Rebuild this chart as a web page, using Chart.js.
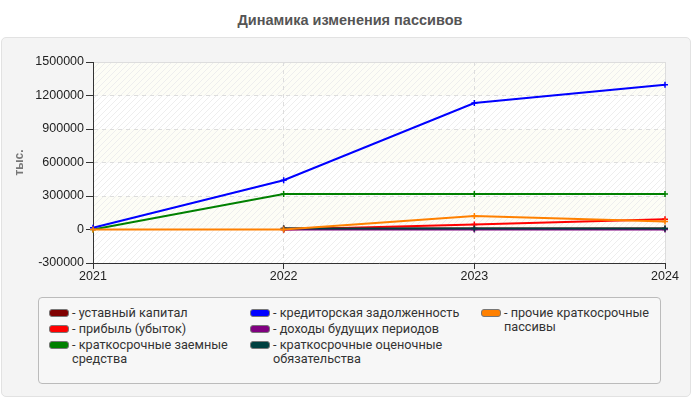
<!DOCTYPE html>
<html>
<head>
<meta charset="utf-8">
<script src="https://cdn.jsdelivr.net/npm/chart.js@4/dist/chart.umd.min.js"></script>
<style>
    html, body { margin: 0; padding: 0; background: #fff; }
    body { width: 700px; height: 400px; position: relative; overflow: hidden; font-family: "Liberation Sans", Arial, sans-serif; }
    #title { position: absolute; left: 0; top: 12px; width: 700px; text-align: center; font-size: 14.5px; font-weight: bold; color: #555; }
    #panel { position: absolute; left: 1px; top: 37px; width: 688px; height: 358px; background: #f4f4f4; border: 1px solid #e2e2e2; border-radius: 5px; }
    #chart { position: absolute; left: 0; top: 0; }
    #legend { position: absolute; left: 38px; top: 297px; width: 621px; height: 85px; background: #f7f7f7; border: 1px solid #bbb; border-radius: 4px; }
    .col { position: absolute; top: 8px; }
    .item { position: relative; padding-left: 23px; font-family: Roboto, sans-serif; font-size: 12.7px; line-height: 14px; color: #333; margin-bottom: 2px; }
    .sw { position: absolute; left: 0; top: 3px; width: 18px; height: 6px; border-radius: 3px; border: 1px solid #777; }
</style>
</head>
<body>
<div id="title">Динамика изменения пассивов</div>
<div id="panel"></div>
<canvas id="chart" width="700" height="400"></canvas>
<div id="legend"></div>
<script>
(function () {
    'use strict';

    // =========================================================================
    // Data
    // =========================================================================

    var years = ['2021', '2022', '2023', '2024'];
    var yTicks = [-300000, 0, 300000, 600000, 900000, 1200000, 1500000];

    var ustavnyKapital = [null, 10000, 10000, 10000];
    var pribyl = [null, 0, 45000, 92000];
    var zaemnye = [0, 318000, 318000, 318000];
    var kreditorskaya = [15000, 441000, 1132000, 1297000];
    var dohodyBuduschih = [null, 0, 0, 0];
    var ocenochnye = [null, 8000, 8000, 8000];
    var prochie = [0, 0, 120000, 72000];

    var seriesNames = [
        'уставный капитал',
        'прибыль (убыток)',
        'краткосрочные заемные средства',
        'кредиторская задолженность',
        'доходы будущих периодов',
        'краткосрочные оценочные обязательства',
        'прочие краткосрочные пассивы'
    ];
    var seriesColors = ['#800000', '#ff0000', '#008000', '#0000ff', '#800080', '#004040', '#ff8000'];
    var seriesData = [ustavnyKapital, pribyl, zaemnye, kreditorskaya, dohodyBuduschih, ocenochnye, prochie];

    // =========================================================================
    // Plot background: alternating bands with hatching
    // =========================================================================

    function makeHatch(base) {
        var c = document.createElement('canvas');
        c.width = 6; c.height = 6;
        var g = c.getContext('2d');
        g.fillStyle = base;
        g.fillRect(0, 0, 6, 6);
        g.strokeStyle = '#eeeeee';
        g.lineWidth = 1;
        g.beginPath();
        g.moveTo(0, 6); g.lineTo(6, 0);
        g.moveTo(-3, 3); g.lineTo(3, -3);
        g.moveTo(3, 9); g.lineTo(9, 3);
        g.stroke();
        return g.createPattern(c, 'repeat');
    }

    var bandsPlugin = {
        id: 'bands',
        beforeDraw: function (chart) {
            var ctx = chart.ctx;
            var area = chart.chartArea;
            var y = chart.scales.y;
            var hatchWhite = makeHatch('#ffffff');
            var hatchYellow = makeHatch('#fdfdf6');
            ctx.save();
            for (var i = 0; i < yTicks.length - 1; i++) {
                var top = y.getPixelForValue(yTicks[i + 1]);
                var bottom = y.getPixelForValue(yTicks[i]);
                ctx.fillStyle = (i % 2 === 0) ? hatchWhite : hatchYellow;
                ctx.fillRect(area.left, top, area.right - area.left, bottom - top);
            }
            ctx.strokeStyle = '#dddddd';
            ctx.lineWidth = 1;
            ctx.strokeRect(area.left + 0.5, area.top + 0.5, area.right - area.left, area.bottom - area.top);
            ctx.restore();
        }
    };

    // =========================================================================
    // Chart
    // =========================================================================

    // later series are painted over earlier ones, as in the original
    var datasets = seriesData.map(function (d, i) {
        return {
            label: seriesNames[i],
            data: d,
            order: seriesData.length - i,
            borderColor: seriesColors[i],
            backgroundColor: seriesColors[i],
            borderWidth: 2,
            pointStyle: 'cross',
            pointRadius: 3,
            pointBorderWidth: 1.5,
            tension: 0,
            spanGaps: false
        };
    });

    new Chart(document.getElementById('chart'), {
        type: 'line',
        data: { labels: years, datasets: datasets },
        options: {
            responsive: false,
            animation: false,
            layout: { padding: { top: 62, right: 35, bottom: 117, left: 12 } },
            plugins: {
                legend: { display: false },
                title: { display: false },
                tooltip: { enabled: false }
            },
            scales: {
                x: {
                    offset: false,
                    afterFit: function (scale) { scale.height = 20; },
                    grid: {
                        color: function (c) { return c.index === 0 ? 'rgba(0,0,0,0)' : '#dddddd'; },
                        tickColor: '#333333',
                        tickLength: 6,
                        drawOnChartArea: true
                    },
                    border: { color: '#333333', width: 1, dash: [4, 4] },
                    ticks: { color: '#222', font: { family: 'Liberation Sans', size: 12.5 }, padding: 0, maxRotation: 0 }
                },
                y: {
                    min: -300000,
                    max: 1500000,
                    afterFit: function (scale) { scale.width = 81; },
                    afterBuildTicks: function (scale) {
                        scale.ticks = yTicks.map(function (v) { return { value: v }; });
                    },
                    grid: { color: '#dddddd', tickColor: '#333333', tickLength: 7 },
                    border: { color: '#333333', width: 1, dash: [4, 4] },
                    ticks: {
                        color: '#222',
                        font: { family: 'Liberation Sans', size: 12.5 },
                        padding: 2,
                        callback: function (v) { return String(v); }
                    },
                    title: {
                        display: true,
                        text: 'тыс.',
                        color: '#777',
                        font: { family: 'Liberation Sans', size: 12, weight: 'bold' },
                        padding: 0
                    }
                }
            }
        },
        plugins: [bandsPlugin]
    });

    // =========================================================================
    // HTML legend (three columns)
    // =========================================================================

    var columns = [[0, 1, 2], [3, 4, 5], [6]];
    var colLeft = [10, 211, 442];
    var colWidth = [188, 228, 172];
    var legendEl = document.getElementById('legend');
    columns.forEach(function (idxs, c) {
        var col = document.createElement('div');
        col.className = 'col';
        col.style.left = colLeft[c] + 'px';
        col.style.width = colWidth[c] + 'px';
        idxs.forEach(function (i) {
            var item = document.createElement('div');
            item.className = 'item';
            var sw = document.createElement('span');
            sw.className = 'sw';
            sw.style.background = seriesColors[i];
            item.appendChild(sw);
            item.appendChild(document.createTextNode('- ' + seriesNames[i]));
            col.appendChild(item);
        });
        legendEl.appendChild(col);
    });
})();
</script>
</body>
</html>
